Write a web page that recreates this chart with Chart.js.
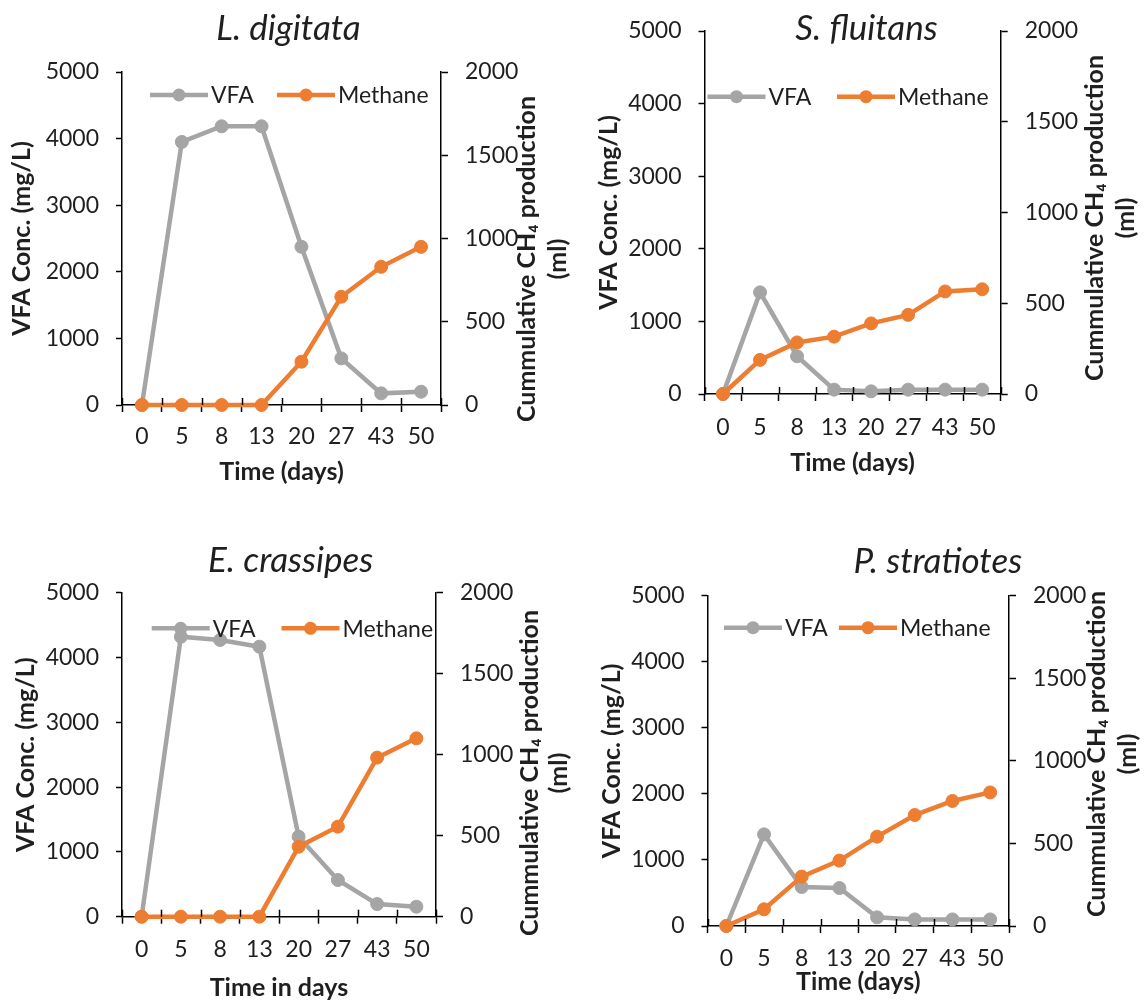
<!DOCTYPE html>
<html>
<head>
<meta charset="utf-8">
<script src="https://cdn.jsdelivr.net/npm/chart.js@4.4.1/dist/chart.umd.min.js"></script>
<style>
html, body { margin: 0; padding: 0; background: #ffffff; }
#wrap { position: relative; width: 1148px; height: 1003px; overflow: hidden; }
#wrap canvas { position: absolute; }
</style>
</head>
<body>
<div id="wrap">
  <canvas id="c0" width="574" height="500" style="left:0px;top:0px;"></canvas>
  <canvas id="c1" width="574" height="500" style="left:574px;top:0px;"></canvas>
  <canvas id="c2" width="574" height="503" style="left:0px;top:500px;"></canvas>
  <canvas id="c3" width="574" height="503" style="left:574px;top:500px;"></canvas>
</div>
<script>
// ---------------- DATA ----------------
const days = ['0', '5', '8', '13', '20', '27', '43', '50'];
const seriesNames = ['VFA', 'Methane'];
const panelTitles = ['L. digitata', 'S. fluitans', 'E. crassipes', 'P. stratiotes'];
const xAxisTitles = ['Time (days)', 'Time (days)', 'Time in days', 'Time (days)'];
const leftAxisTitle = 'VFA Conc. (mg/L)';
const rightAxisTitle = ['Cummulative CH\u2084 production', '(ml)'];
const vfaTicks = [0, 1000, 2000, 3000, 4000, 5000];
const ch4Ticks = [0, 500, 1000, 1500, 2000];

const vfaLdigitata = [0, 3950, 4185, 4185, 2375, 700, 175, 200];
const methaneLdigitata = [0, 0, 0, 0, 260, 650, 830, 950];

const vfaSfluitans = [0, 1400, 520, 60, 37, 60, 60, 60];
const methaneSfluitans = [0, 188, 284, 316, 389, 436, 565, 577];

const vfaEcrassipes = [0, 4320, 4270, 4167, 1235, 566, 195, 154];
const methaneEcrassipes = [0, 0, 0, 0, 432, 556, 982, 1101];

const vfaPstratiotes = [0, 1387, 590, 575, 131, 100, 100, 100];
const methanePstratiotes = [0, 101, 299, 396, 541, 672, 757, 809];

const vfaSeries = [vfaLdigitata, vfaSfluitans, vfaEcrassipes, vfaPstratiotes];
const methaneSeries = [methaneLdigitata, methaneSfluitans, methaneEcrassipes, methanePstratiotes];

// ---------------- STYLE / LAYOUT ----------------
const FONT = 'Lato, Carlito, Calibri, "Open Sans", sans-serif';
const TEXT = '#1f1f1f';
const GRAY = '#a5a5a5';
const ORANGE = '#ed7d31';

const layouts = [
  { W: 574, H: 500, L: 122, R: 441, T: 72, B: 405, title: [288.5, 40],
    yTitlePad: 7, xTitlePad: 13, xTickPad: 11.2,
    rTitle: { x1: 526.5, x2: 557.6, cy: 259 }, legend: { y: 95, starts: [150, 277] } },
  { W: 574, H: 500, L: 130.5, R: 426.7, T: 31, B: 394, title: [292.5, 40],
    yTitlePad: 19.7, xTitlePad: 22, xTickPad: 13.2,
    rTitle: { x1: 521, x2: 552, cy: 218 }, legend: { y: 96.7, starts: [133.5, 263] } },
  { W: 574, H: 503, L: 122, R: 436, T: 92.7, B: 416.7, title: [290.7, 72],
    yTitlePad: 10.6, xTitlePad: 0, xTickPad: 12.5,
    rTitle: { x1: 530, x2: 559.4, cy: 273 }, legend: { y: 128.3, starts: [151.7, 281.5] } },
  { W: 574, H: 503, L: 133.5, R: 435, T: 95.7, B: 426, title: [363.8, 72.7],
    yTitlePad: 23.4, xTitlePad: 6.3, xTickPad: 11.5,
    rTitle: { x1: 523, x2: 554, cy: 254 }, legend: { y: 127.7, starts: [150, 265] } }
];

// ---------------- PLUGINS ----------------
const panelDecor = {
  id: 'panelDecor',
  afterDraw(chart, args, o) {
    const ctx = chart.ctx;
    const xs = chart.scales.x;
    ctx.save();
    // upward half of the crossing x-axis tick marks
    const n = xs.ticks.length;
    const step = (xs.right - xs.left) / n;
    ctx.strokeStyle = '#000';
    ctx.lineWidth = 1.5;
    for (let i = 0; i <= n; i++) {
      const px = Math.round(xs.left + i * step) + 0.5;
      ctx.beginPath();
      ctx.moveTo(px, xs.top);
      ctx.lineTo(px, xs.top - 7);
      ctx.stroke();
    }
    // panel title
    ctx.fillStyle = TEXT;
    ctx.font = 'italic 35px ' + FONT;
    ctx.textAlign = 'center';
    ctx.textBaseline = 'alphabetic';
    ctx.fillText(o.title, o.titlePos[0], o.titlePos[1]);
    // right axis title, rotated to read bottom-to-top
    ctx.font = 'bold 25px ' + FONT;
    ctx.textBaseline = 'middle';
    const lines = o.rightTitle;
    const xsPos = [o.rTitle.x1, o.rTitle.x2];
    lines.forEach((t, i) => {
      ctx.save();
      ctx.translate(xsPos[i], o.rTitle.cy);
      ctx.rotate(-Math.PI / 2);
      ctx.fillText(t, 0, 0);
      ctx.restore();
    });
    // legend inside the plot area
    ctx.font = '23px ' + FONT;
    ctx.textAlign = 'left';
    ctx.textBaseline = 'middle';
    const len = 58;
    chart.data.datasets.forEach((ds, i) => {
      const x0 = o.legend.starts[i];
      const y = o.legend.y;
      ctx.strokeStyle = ds.borderColor;
      ctx.lineWidth = ds.borderWidth;
      ctx.beginPath();
      ctx.moveTo(x0, y);
      ctx.lineTo(x0 + len, y);
      ctx.stroke();
      ctx.fillStyle = ds.pointBackgroundColor;
      ctx.beginPath();
      ctx.arc(x0 + len / 2, y, ds.pointRadius, 0, Math.PI * 2);
      ctx.fill();
      ctx.fillStyle = TEXT;
      ctx.fillText(ds.label, x0 + len + 3, y + 1);
    });
    ctx.restore();
  }
};

const plainNumber = (v) => String(v);

function makeChart(idx) {
  const lay = layouts[idx];
  const ctx = document.getElementById('c' + idx);
  const tickFont = { family: FONT, size: 23 };
  const titleFont = { family: FONT, size: 25, weight: 'bold' };
  return new Chart(ctx, {
    type: 'line',
    data: {
      labels: days,
      datasets: [
        { label: seriesNames[0], data: vfaSeries[idx], yAxisID: 'y', order: 2,
          borderColor: GRAY, backgroundColor: GRAY, pointBackgroundColor: GRAY,
          pointBorderColor: GRAY, borderWidth: 4.5, pointRadius: 6.5, pointBorderWidth: 1,
          tension: 0, clip: false },
        { label: seriesNames[1], data: methaneSeries[idx], yAxisID: 'y2', order: 1,
          borderColor: ORANGE, backgroundColor: ORANGE, pointBackgroundColor: ORANGE,
          pointBorderColor: ORANGE, borderWidth: 4.5, pointRadius: 6.5, pointBorderWidth: 1,
          tension: 0, clip: false }
      ]
    },
    options: {
      responsive: false,
      animation: false,
      devicePixelRatio: 1,
      layout: { padding: { top: lay.T, left: 0, right: 0, bottom: 0 } },
      plugins: {
        legend: { display: false },
        tooltip: { enabled: false },
        title: { display: false },
        panelDecor: { title: panelTitles[idx], titlePos: lay.title, rightTitle: rightAxisTitle,
          rTitle: lay.rTitle, legend: lay.legend }
      },
      scales: {
        x: {
          type: 'category',
          offset: true,
          grid: { offset: true, drawOnChartArea: false, drawTicks: true, tickLength: 7,
            color: '#000', tickColor: '#000', tickWidth: 1.5 },
          border: { display: true, color: '#000', width: 1.5 },
          ticks: { font: tickFont, color: TEXT, padding: lay.xTickPad, maxRotation: 0,
            autoSkip: false },
          title: { display: true, text: xAxisTitles[idx], font: titleFont, color: TEXT,
            padding: { top: 0, bottom: lay.xTitlePad } },
          afterFit(s) { s.height = lay.H - lay.B; }
        },
        y: {
          position: 'left',
          min: vfaTicks[0], max: vfaTicks[vfaTicks.length - 1],
          afterBuildTicks(s) { s.ticks = vfaTicks.map(v => ({ value: v })); },
          grid: { drawOnChartArea: false, drawTicks: true, tickLength: 6,
            color: '#000', tickColor: '#000', tickWidth: 1.5 },
          border: { display: true, color: '#000', width: 1.5 },
          ticks: { font: tickFont, color: TEXT, padding: 17, callback: plainNumber },
          title: { display: true, text: leftAxisTitle, font: titleFont, color: TEXT,
            padding: { top: lay.yTitlePad, bottom: 0 } },
          afterFit(s) { s.width = lay.L; }
        },
        y2: {
          position: 'right',
          min: ch4Ticks[0], max: ch4Ticks[ch4Ticks.length - 1],
          afterBuildTicks(s) { s.ticks = ch4Ticks.map(v => ({ value: v })); },
          grid: { drawOnChartArea: false, drawTicks: true, tickLength: 7,
            color: '#000', tickColor: '#000', tickWidth: 1.5 },
          border: { display: true, color: '#000', width: 1.5 },
          ticks: { font: tickFont, color: TEXT, padding: 17, callback: plainNumber },
          afterFit(s) { s.width = lay.W - lay.R; }
        }
      }
    },
    plugins: [panelDecor]
  });
}

[0, 1, 2, 3].forEach(makeChart);
</script>
</body>
</html>
